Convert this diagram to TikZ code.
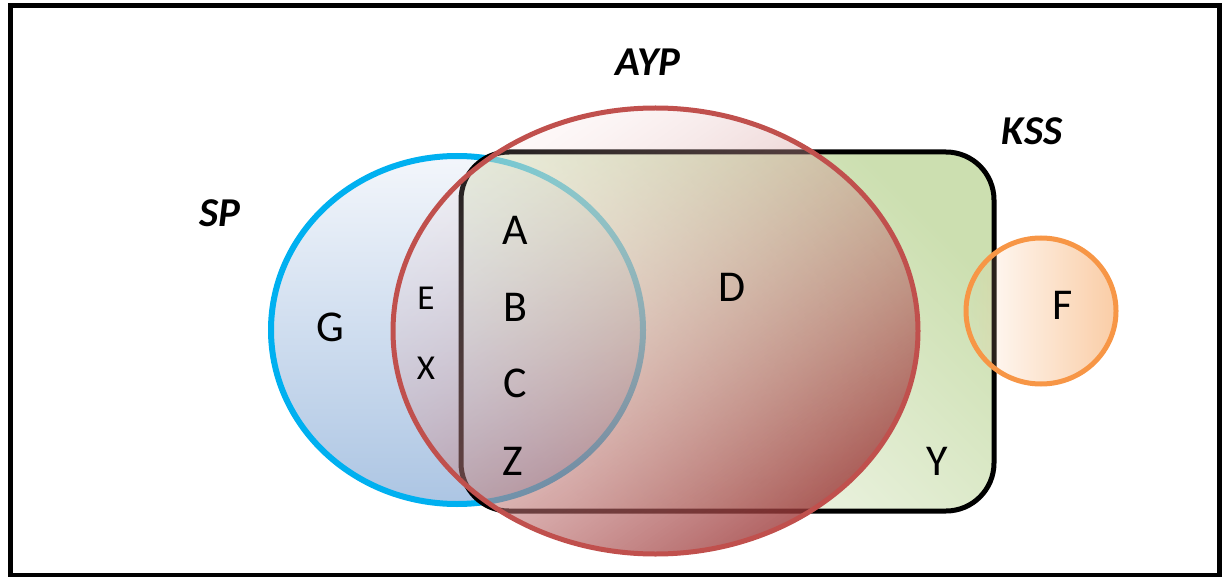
\documentclass[tikz,border=0pt]{standalone}
\usepackage{fontspec}
\setmainfont{Carlito}
\usetikzlibrary{fadings}
\definecolor{spline}{HTML}{00B0F0}
\definecolor{sptop}{HTML}{F3F6FB}
\definecolor{spbot}{HTML}{ACC5E3}
\definecolor{kssgreen}{HTML}{CCDFB0}
\definecolor{aypline}{HTML}{C0504D}
\definecolor{ayptop}{HTML}{F6D8D8}
\definecolor{aypmid}{HTML}{DFA0A0}
\definecolor{aypbot}{HTML}{9C3838}
\definecolor{fline}{HTML}{F79646}
\definecolor{ffill}{HTML}{F9C79C}
\tikzfading[name=fadeleft, left color=transparent!100, right color=transparent!0]
\begin{tikzfadingfrompicture}[name=kssfade]
  \shade[top color=transparent!0, bottom color=transparent!90, shading angle=-45]
    (-266.5pt,-179.5pt) rectangle (266.5pt,179.5pt);
\end{tikzfadingfrompicture}
\begin{tikzfadingfrompicture}[name=aypfade]
  \shade[top color=transparent!85, bottom color=transparent!20, shading angle=35]
    (-262.5pt,-223pt) rectangle (262.5pt,223pt);
\end{tikzfadingfrompicture}
\begin{document}
\begin{tikzpicture}[x=1pt,y=-1pt,
  lbl/.style={inner sep=0pt, font=\fontsize{44}{50}\selectfont},
  small/.style={inner sep=0pt, font=\fontsize{35}{40}\selectfont},
  title/.style={inner sep=0pt, font=\fontsize{41}{48}\selectfont\bfseries\itshape}]
\useasboundingbox (0,0) rectangle (1225,577);
\draw[line width=5pt] (10,6) rectangle (1219,575);
% SP circle
\shade[top color=sptop, bottom color=spbot] (457,330) ellipse [x radius=186, y radius=174];
\draw[spline, line width=6pt] (457,330) ellipse [x radius=186, y radius=174];
% KSS rectangle
\fill[kssgreen, path fading=kssfade, fit fading=false, fading transform={shift={(727.5,331.5)}}, rounded corners=48pt] (461,152) rectangle (994,511);
\draw[line width=5pt, rounded corners=48pt] (461,152) rectangle (994,511);
% AYP ellipse
\shade[top color=ayptop, middle color=aypmid, bottom color=aypbot, shading angle=35, path fading=aypfade, fit fading=false, fading transform={shift={(655.5,331)}}] (655.5,331) ellipse [x radius=262.5, y radius=223];
\draw[aypline, line width=5pt] (655.5,331) ellipse [x radius=262.5, y radius=223];
% F circle
\fill[ffill, fill opacity=0.9, path fading=fadeleft] (1041,311) ellipse [x radius=75, y radius=73];
\draw[fline, line width=5pt] (1041,311) ellipse [x radius=75, y radius=73];
% titles
\node[title] (tsp) at (220,213) {SP};
\node[title] (tayp) at (648,62) {AYP};
\node[title] (tkss) at (1032,131) {KSS};
% labels
\node[lbl] (nA) at (515,230) {A};
\node[lbl] (nB) at (515,307) {B};
\node[lbl] (nC) at (515,383) {C};
\node[lbl] (nZ) at (513,461) {Z};
\node[small] (nE) at (426,298) {E};
\node[small] (nX) at (426,368) {X};
\node[lbl] (nG) at (330,327) {G};
\node[lbl] (nD) at (732,287) {D};
\node[lbl] (nY) at (937,461) {Y};
\node[lbl] (nF) at (1063,305) {F};
\end{tikzpicture}
\end{document}
